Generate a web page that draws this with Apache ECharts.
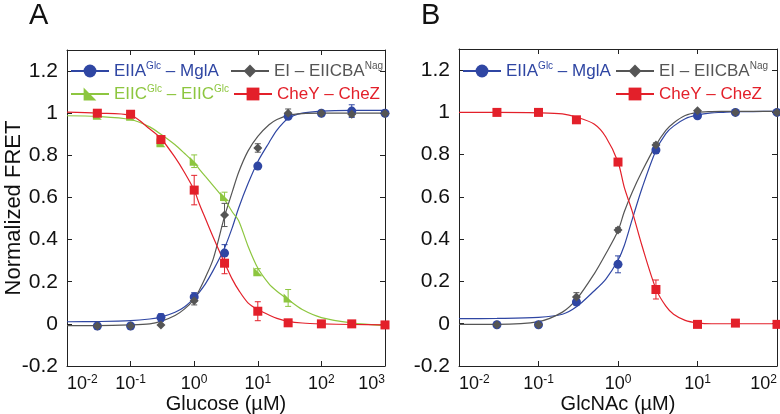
<!DOCTYPE html>
<html lang="en">
<head>
  <meta charset="UTF-8">
  <title>Normalized FRET</title>
  <script src="https://cdn.jsdelivr.net/npm/echarts@6/dist/echarts.min.js"></script>
  <style>
    body { margin: 0; background: #fff; }
    #main { width: 780px; height: 414px; }
  </style>
</head>
<body>
  <div id="main"></div>
  <script>
    // measured points (x in µM)
    var xA = [0.03, 0.1, 0.3, 1, 3, 10, 30, 100, 300, 1000]
    var aMgla = [-0.01, -0.01, 0.03, 0.128, 0.336, 0.749, 0.985, 1.0, 1.01, 1.0]
    var aMglaErr = [0, 0, 0.018, 0.02, 0.04, 0.01, 0.01, 0.01, 0.03, 0.01]
    var aEicba = [-0.01, -0.01, -0.005, 0.11, 0.517, 0.835, 1.0, 1.0, 0.995, 0.998]
    var aEicbaErr = [0, 0, 0, 0.02, 0.055, 0.02, 0.02, 0.01, 0.01, 0]
    var aEiic = [0.99, 0.985, 0.86, 0.772, 0.605, 0.247, 0.123, null, null, null]
    var aEiicErr = [0, 0, 0.01, 0.03, 0.02, 0.015, 0.04, 0, 0, 0]
    var aChez = [1.0, 0.995, 0.875, 0.635, 0.288, 0.06, 0.005, 0.0, 0.0, -0.005]
    var aChezErr = [0, 0, 0.01, 0.07, 0.05, 0.045, 0, 0, 0, 0]

    var xB = [0.03, 0.1, 0.3, 1, 3, 10, 30, 100]
    var bMgla = [-0.005, -0.005, 0.103, 0.281, 0.822, 0.984, 1.0, 1.0]
    var bMglaErr = [0, 0, 0.01, 0.04, 0.015, 0.01, 0, 0]
    var bEicba = [-0.005, -0.005, 0.127, 0.444, 0.846, 1.008, 1.0, 1.0]
    var bEicbaErr = [0, 0, 0.02, 0.01, 0.01, 0, 0, 0]
    var bChez = [1.0, 1.0, 0.965, 0.765, 0.162, -0.003, 0.003, -0.003]
    var bChezErr = [0, 0, 0.005, 0.01, 0.045, 0, 0, 0]

    // fitted curves
    var fitX = [0.01, 0.03, 0.1, 0.2, 0.3, 0.5, 0.7, 1, 1.2, 1.5, 2, 3, 4, 5, 7, 10, 15, 20, 30, 50, 100, 300, 1000]
    var fitAMgla = [0.010, 0.011, 0.015, 0.023, 0.032, 0.055, 0.080, 0.122, 0.15, 0.19, 0.255, 0.36, 0.46, 0.55, 0.665, 0.77, 0.86, 0.92, 0.975, 1.0, 1.01, 1.013, 1.013]
    var fitAEicba = [-0.008, -0.008, -0.005, 0.0, 0.012, 0.04, 0.07, 0.118, 0.16, 0.22, 0.31, 0.51, 0.63, 0.72, 0.82, 0.89, 0.945, 0.97, 0.99, 0.998, 1.0, 1.0, 1.0]
    var fitAEiic = [0.988, 0.985, 0.97, 0.935, 0.9, 0.85, 0.81, 0.765, 0.735, 0.7, 0.655, 0.59, 0.53, 0.49, 0.37, 0.265, 0.19, 0.155, 0.115, 0.068, 0.03, 0.005, -0.008]
    var fitAChez = [1.005, 1.0, 0.99, 0.925, 0.88, 0.79, 0.72, 0.635, 0.57, 0.5, 0.41, 0.29, 0.21, 0.16, 0.1, 0.068, 0.042, 0.026, 0.012, 0.004, 0.0, -0.003, -0.005]
    var fitBMgla = [0.024, 0.025, 0.03, 0.045, 0.08, 0.155, 0.21, 0.30, 0.37, 0.49, 0.64, 0.82, 0.9, 0.935, 0.97, 0.988, 0.998, 1.0, 1.003, 1.004, 1.005]
    var fitBEicba = [-0.003, -0.003, 0.01, 0.055, 0.115, 0.235, 0.33, 0.44, 0.53, 0.62, 0.72, 0.845, 0.915, 0.95, 0.985, 1.0, 1.004, 1.005, 1.005, 1.005, 1.005]
    var fitBChez = [1.0, 1.0, 0.998, 0.993, 0.978, 0.945, 0.885, 0.765, 0.645, 0.535, 0.37, 0.165, 0.083, 0.045, 0.016, 0.004, 0.0, 0.0, 0.0, 0.0, 0.0]

    var BLUE = '#2f46a3', GRAY = '#555555', GREEN = '#8dc63f', RED = '#e3202a'
    var FONT = 'Liberation Sans, Arial, sans-serif'
    var TRI = 'path://M0,0L0,10L10,10Z'

    var names = {
      mgla: 'EIIA – MglA',
      eicba: 'EI – EIICBA',
      eiic: 'EIIC – EIIC',
      chez: 'CheY – CheZ'
    }
    var legendText = {}
    legendText[names.mgla] = 'EIIA{s|Glc} – MglA'
    legendText[names.eicba] = 'EI – EIICBA{s|Nag}'
    legendText[names.eiic] = 'EIIC{s|Glc} – EIIC{s|Glc}'
    legendText[names.chez] = 'CheY – CheZ'

    function pairs(xs, ys) {
      var out = []
      for (var i = 0; i < ys.length; i++) {
        if (ys[i] != null) out.push([xs[i], ys[i]])
      }
      return out
    }
    function bars(xs, ys, es) {
      var out = []
      for (var i = 0; i < ys.length; i++) {
        if (ys[i] != null && es[i] > 0) out.push([xs[i], ys[i] - es[i], ys[i] + es[i]])
      }
      return out
    }

    function curve(name, color, symbol, g, xs, ys) {
      return {
        type: 'line', name: name, xAxisIndex: g * 2, yAxisIndex: g * 2,
        data: pairs(xs, ys), smooth: 0.3, showSymbol: false, symbol: symbol,
        lineStyle: { color: color, width: 1.2 }, itemStyle: { color: color },
        silent: true, z: 2
      }
    }
    function points(name, color, symbol, size, g, xs, ys) {
      return {
        type: 'scatter', name: name, xAxisIndex: g * 2, yAxisIndex: g * 2,
        data: pairs(xs, ys), symbol: symbol, symbolSize: size, clip: false,
        itemStyle: { color: color, opacity: 1 }, z: 4
      }
    }
    function errRender(params, api) {
      var a = api.coord([api.value(0), api.value(2)])
      var b = api.coord([api.value(0), api.value(1)])
      var st = { stroke: api.visual('color'), lineWidth: 1 }
      return {
        type: 'group', children: [
          { type: 'line', shape: { x1: a[0], y1: a[1], x2: b[0], y2: b[1] }, style: st },
          { type: 'line', shape: { x1: a[0] - 3, y1: a[1], x2: a[0] + 3, y2: a[1] }, style: st },
          { type: 'line', shape: { x1: b[0] - 3, y1: b[1], x2: b[0] + 3, y2: b[1] }, style: st }
        ]
      }
    }
    function errs(name, color, g, xs, ys, es) {
      return {
        type: 'custom', name: name, xAxisIndex: g * 2, yAxisIndex: g * 2,
        data: bars(xs, ys, es), renderItem: errRender, clip: false,
        itemStyle: { color: color }, encode: { x: 0, y: [1, 2] }, silent: true, z: 3
      }
    }

    function leg(name, color, left, top) {
      return {
        data: [{ name: name, textStyle: { color: color } }],
        left: left, top: top, padding: 0, itemGap: 0,
        itemWidth: 38, itemHeight: 16,
        lineStyle: { width: 2 },
        formatter: function (n) { return legendText[n] },
        textStyle: {
          fontFamily: FONT, fontSize: 17, lineHeight: 20, color: color,
          rich: { s: { fontSize: 10, verticalAlign: 'top', lineHeight: 20, fontFamily: FONT } }
        }
      }
    }

    var axisLineStyle = { color: '#222', width: 1 }
    function xAxes(g, min, max, title) {
      var base = {
        type: 'log', logBase: 10, gridIndex: g, min: min, max: max,
        axisLine: { onZero: false, lineStyle: axisLineStyle },
        axisTick: { inside: true, length: 5, lineStyle: axisLineStyle },
        splitLine: { show: false }, minorTick: { show: false }
      }
      var bottom = Object.assign({}, base, {
        position: 'bottom',
        name: title, nameLocation: 'middle', nameGap: 28, nameMoveOverlap: false,
        nameTextStyle: { fontFamily: FONT, fontSize: 20, color: '#111' },
        axisLabel: {
          margin: 8, alignMinLabel: 'left', alignMaxLabel: 'right',
          formatter: function (v) {
            return '{b|10}{s|' + Math.round(Math.log10(v)) + '}'
          },
          rich: {
            b: { fontFamily: FONT, fontSize: 18, color: '#111', lineHeight: 21 },
            s: { fontFamily: FONT, fontSize: 12, color: '#111', verticalAlign: 'top', lineHeight: 21 }
          }
        }
      })
      var top = Object.assign({}, base, { position: 'top', axisLabel: { show: false } })
      return [bottom, top]
    }
    function yAxes(g, withName) {
      var base = {
        type: 'value', gridIndex: g, min: -0.2, max: 1.3, interval: 0.2,
        axisLine: { show: true, onZero: false, lineStyle: axisLineStyle },
        axisTick: { show: true, inside: true, length: 5, lineStyle: axisLineStyle },
        splitLine: { show: false }
      }
      var left = Object.assign({}, base, {
        position: 'left',
        axisLabel: { fontFamily: FONT, fontSize: 21, color: '#111', margin: 9, showMaxLabel: false }
      })
      if (withName) {
        left.name = 'Normalized FRET'
        left.nameLocation = 'middle'
        left.nameGap = 42
        left.nameMoveOverlap = false
        left.nameTextStyle = { fontFamily: FONT, fontSize: 22, color: '#111' }
      }
      var right = Object.assign({}, base, { position: 'right', axisLabel: { show: false } })
      return [left, right]
    }

    var chart = echarts.init(document.getElementById('main'))
    chart.setOption({
      animation: false,
      graphic: [
        { type: 'text', left: 29, top: 1, style: { text: 'A', fontFamily: FONT, fontSize: 29, fill: '#111' } },
        { type: 'text', left: 421, top: 1, style: { text: 'B', fontFamily: FONT, fontSize: 29, fill: '#111' } }
      ],
      grid: [
        { left: 67, top: 50, width: 318, height: 316, outerBoundsMode: 'none', containLabel: false },
        { left: 459, top: 49, width: 318, height: 317, outerBoundsMode: 'none', containLabel: false }
      ],
      xAxis: xAxes(0, 0.01, 1000, 'Glucose (µM)').concat(xAxes(1, 0.01, 100, 'GlcNAc (µM)')),
      yAxis: yAxes(0, true).concat(yAxes(1, false)),
      legend: [
        leg(names.mgla, BLUE, 70, 61),
        leg(names.eicba, GRAY, 230, 61),
        leg(names.eiic, GREEN, 70, 84),
        leg(names.chez, RED, 233, 84),
        leg(names.mgla, BLUE, 462, 61),
        leg(names.eicba, GRAY, 615, 61),
        leg(names.chez, RED, 615, 84)
      ],
      series: [
        curve(names.mgla, BLUE, 'circle', 0, fitX, fitAMgla),
        curve(names.eicba, GRAY, 'diamond', 0, fitX, fitAEicba),
        curve(names.eiic, GREEN, TRI, 0, fitX, fitAEiic),
        curve(names.chez, RED, 'rect', 0, fitX, fitAChez),
        curve(names.mgla, BLUE, 'circle', 1, fitX, fitBMgla),
        curve(names.eicba, GRAY, 'diamond', 1, fitX, fitBEicba),
        curve(names.chez, RED, 'rect', 1, fitX, fitBChez),

        errs(names.eiic, GREEN, 0, xA, aEiic, aEiicErr),
        errs(names.mgla, BLUE, 0, xA, aMgla, aMglaErr),
        errs(names.eicba, GRAY, 0, xA, aEicba, aEicbaErr),
        errs(names.chez, RED, 0, xA, aChez, aChezErr),
        errs(names.mgla, BLUE, 1, xB, bMgla, bMglaErr),
        errs(names.eicba, GRAY, 1, xB, bEicba, bEicbaErr),
        errs(names.chez, RED, 1, xB, bChez, bChezErr),

        points(names.eiic, GREEN, TRI, 9, 0, xA, aEiic),
        points(names.mgla, BLUE, 'circle', 9, 0, xA, aMgla),
        points(names.eicba, GRAY, 'diamond', 9, 0, xA, aEicba),
        points(names.chez, RED, 'rect', 9, 0, xA, aChez),
        points(names.mgla, BLUE, 'circle', 9, 1, xB, bMgla),
        points(names.eicba, GRAY, 'diamond', 9, 1, xB, bEicba),
        points(names.chez, RED, 'rect', 9, 1, xB, bChez)
      ]
    })
  </script>
</body>
</html>
